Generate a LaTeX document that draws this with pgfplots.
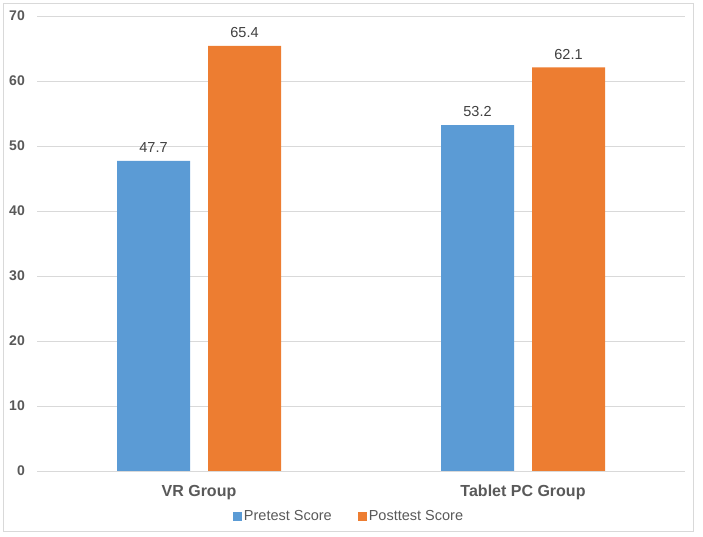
\documentclass[border=0pt]{standalone}
\usepackage{fontspec}
\setmainfont{Liberation Sans}
\usepackage{pgfplots}
\pgfplotsset{compat=1.18}
\definecolor{pre}{HTML}{5B9BD5}
\definecolor{post}{HTML}{ED7D31}
\definecolor{gridc}{HTML}{D9D9D9}
\definecolor{txt}{HTML}{595959}
\definecolor{lbl}{HTML}{404040}

\begin{document}
\begin{tikzpicture}
\useasboundingbox (0,0) rectangle (703pt,537pt);
\draw[gridc, line width=1pt] (3.5pt,5.5pt) rectangle (693.5pt,533pt);
\begin{axis}[
    at={(37pt,66pt)}, anchor=south west,
    scale only axis, width=648pt, height=455pt,
    ybar, bar width=73pt,
    xmin=-0.5, xmax=1.5, ymin=0, ymax=70,
    xtick=data, xticklabels={VR Group, Tablet PC Group},
    ytick={0,10,...,70},
    axis line style={draw=none},
    major tick length=0pt,
    ymajorgrids, grid style={gridc, line width=0.8pt},
    /pgf/number format/assume math mode=true,
    yticklabel style={font=\fontsize{14}{16}\selectfont\bfseries, text=txt, inner sep=0pt, xshift=-12pt},
    xticklabel style={font=\fontsize{16}{18}\selectfont\bfseries, text=txt, inner sep=0pt, yshift=-14pt},
    nodes near coords,
    nodes near coords style={font=\fontsize{14.5}{17}\selectfont, text=lbl, inner sep=0pt, anchor=south, yshift=8pt,
        /pgf/number format/.cd, fixed, precision=1, fixed zerofill},
    legend style={draw=none, fill=none, at={(0.4815,-0.099)}, anchor=center,
        font=\fontsize{14.5}{17}\selectfont, text=txt, nodes={inner sep=1.5pt},
        /tikz/every even column/.append style={column sep=25pt}},
    legend columns=2,
    legend image code/.code={\fill[#1] (0pt,-4.5pt) rectangle (9pt,4.5pt);},
]
\addplot[fill=pre, draw=none, bar shift=-45.5pt] coordinates {(0,47.7) (1,53.2)};
\addplot[fill=post, draw=none, bar shift=45.5pt] coordinates {(0,65.4) (1,62.1)};
\legend{Pretest Score, Posttest Score}
\end{axis}
\end{tikzpicture}
\end{document}
